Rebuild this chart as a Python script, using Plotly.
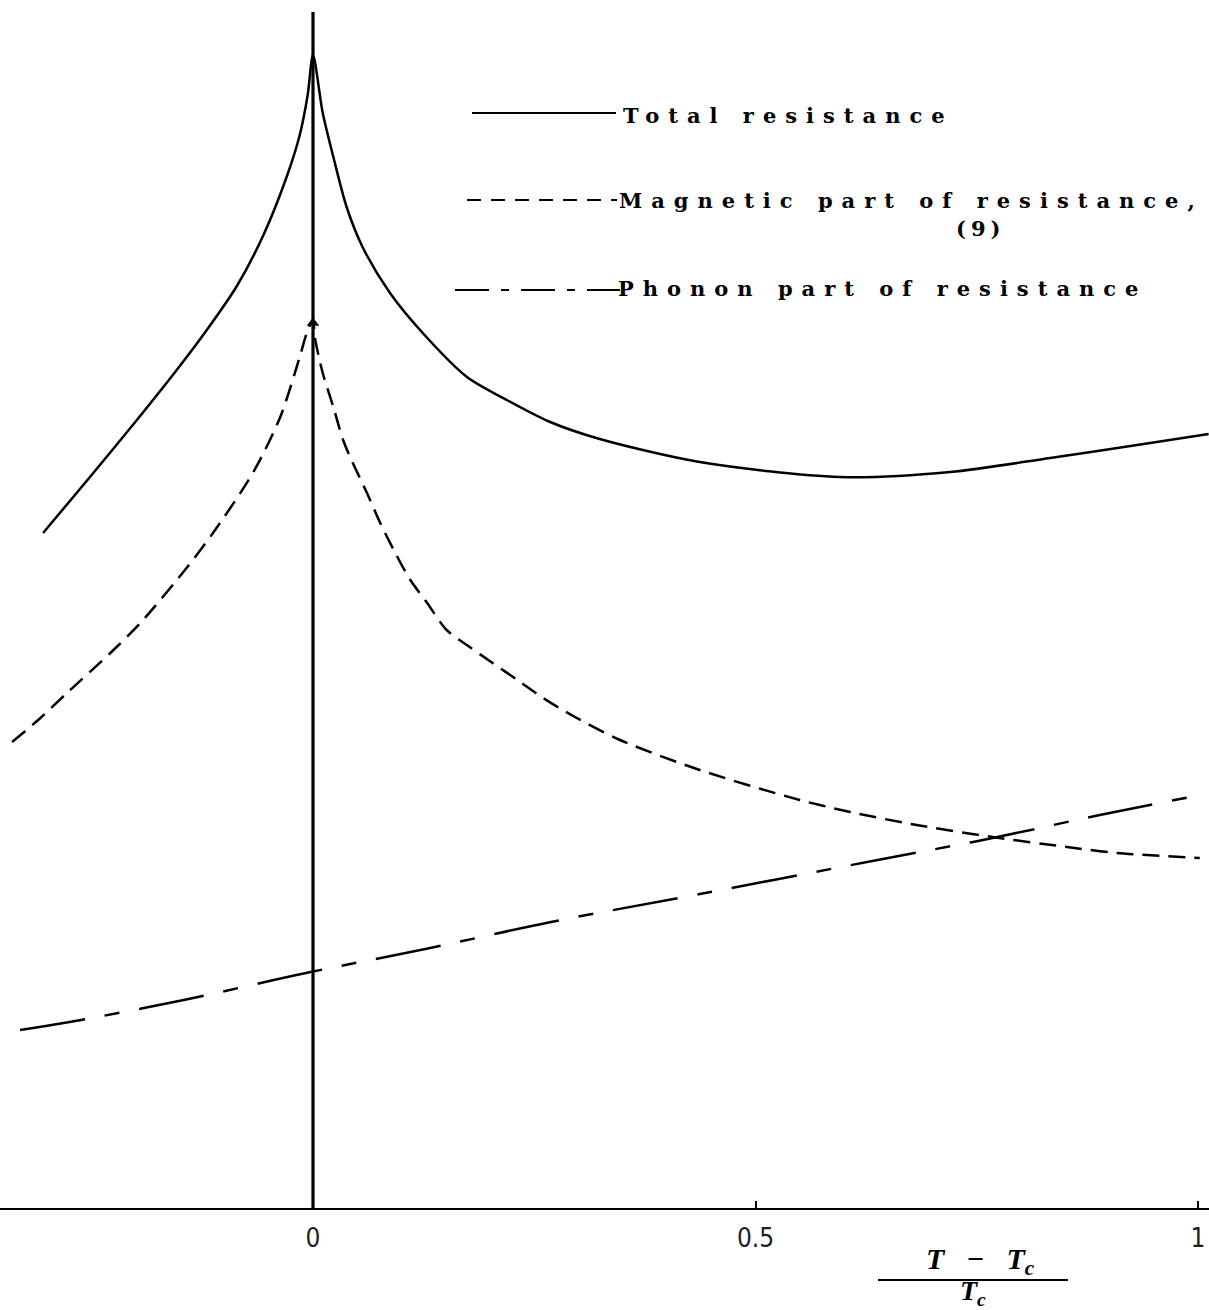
import plotly.graph_objects as go

# ---- data (reduced temperature (T-Tc)/Tc vs resistance, arbitrary units) ----
total_x = [-0.305, -0.252, -0.199, -0.154, -0.120, -0.086, -0.056, -0.029, -0.015, -0.006, 0.0,
           0.011, 0.023, 0.038, 0.056, 0.087, 0.124, 0.174, 0.219, 0.268, 0.324, 0.437, 0.595,
           0.720, 0.833, 0.946, 1.012]
total_y = [6.75, 7.31, 7.88, 8.38, 8.78, 9.22, 9.73, 10.33, 10.73, 11.13, 11.53,
           10.95, 10.51, 10.01, 9.61, 9.15, 8.75, 8.31, 8.08, 7.86, 7.69, 7.46, 7.31,
           7.36, 7.50, 7.65, 7.74]

mag_x = [-0.340, -0.308, -0.278, -0.229, -0.195, -0.142, -0.113, -0.068, -0.037, -0.015, -0.007, 0.0,
         0.002, 0.011, 0.023, 0.034, 0.045, 0.061, 0.076, 0.093, 0.110, 0.129, 0.151, 0.177, 0.203,
         0.231, 0.260, 0.294, 0.347, 0.437, 0.550, 0.607, 0.682, 0.768, 0.852, 0.908, 1.002]
mag_y = [4.66, 4.90, 5.15, 5.55, 5.85, 6.41, 6.75, 7.35, 7.91, 8.51, 8.75, 8.88,
         8.71, 8.35, 8.01, 7.68, 7.45, 7.15, 6.85, 6.55, 6.28, 6.05, 5.78, 5.61, 5.45,
         5.28, 5.10, 4.92, 4.68, 4.38, 4.08, 3.96, 3.83, 3.71, 3.61, 3.55, 3.50]

phon_x = [-0.331, -0.275, -0.146, -0.008, 0.127, 0.269, 0.437, 0.632, 0.768, 0.889, 0.997]
phon_y = [1.78, 1.86, 2.08, 2.35, 2.59, 2.86, 3.14, 3.47, 3.70, 3.93, 4.12]

axis_top = 11.96
arrow_y = 8.85

tick_vals = [0, 0.5, 1]
tick_text = ["0", "0.5", "1"]

legend_labels = ["Total resistance", "Magnetic part of resistance,", "Phonon part of resistance"]
eq_label = "(9)"

# ---- pixel helpers for layout placement ----
def X(px):
    return (px - 313) / 885.0

def Y(py):
    return (1208 - py) / 100.0

def P(py):
    return (1208 - py) / 1208.0

MAG_DASH = "17px,9px"
PHON_DASH = "66px,20px,15px,20px"

fig = go.Figure()
fig.add_trace(go.Scatter(x=[0, 0], y=[0, axis_top], mode="lines",
                         line=dict(color="black", width=3.2), showlegend=False))
fig.add_trace(go.Scatter(x=total_x, y=total_y, mode="lines",
                         line=dict(color="black", width=2.5, shape="spline", smoothing=0.8),
                         showlegend=False))
fig.add_trace(go.Scatter(x=mag_x, y=mag_y, mode="lines",
                         line=dict(color="black", width=2.5, dash=MAG_DASH, shape="spline", smoothing=0.8),
                         showlegend=False))
fig.add_trace(go.Scatter(x=phon_x, y=phon_y, mode="lines",
                         line=dict(color="black", width=2.5, dash=PHON_DASH, shape="spline", smoothing=1.0),
                         showlegend=False))
fig.add_trace(go.Scatter(x=[0], y=[arrow_y], mode="markers",
                         marker=dict(symbol="triangle-up", size=11, color="black"),
                         showlegend=False))

# legend sample lines
shapes = [
    dict(type="line", xref="x", yref="y", x0=X(472), x1=X(616), y0=Y(113), y1=Y(113),
         line=dict(color="black", width=2)),
    dict(type="line", xref="x", yref="y", x0=X(467), x1=X(617), y0=Y(200), y1=Y(200),
         line=dict(color="black", width=2, dash="14px,10px")),
    dict(type="line", xref="x", yref="y", x0=X(455), x1=X(620), y0=Y(290), y1=Y(290),
         line=dict(color="black", width=2, dash="34px,12px,8px,12px")),
    # fraction bar of the axis title
    dict(type="line", xref="x", yref="paper", x0=X(878), x1=X(1068), y0=P(1280), y1=P(1280),
         line=dict(color="black", width=2)),
]

leg_font = dict(family="DejaVu Serif, serif", size=21, color="black", weight="bold")
LS = "letter-spacing:9px"
annotations = [
    dict(x=X(621), y=Y(115), xref="x", yref="y", xanchor="left", yanchor="middle", showarrow=False,
         text=f'<span style="{LS}">{legend_labels[0]}</span>', font=leg_font),
    dict(x=X(617), y=Y(200), xref="x", yref="y", xanchor="left", yanchor="middle", showarrow=False,
         text=f'<span style="{LS}">{legend_labels[1]}</span>', font=leg_font),
    dict(x=X(980), y=Y(228), xref="x", yref="y", xanchor="center", yanchor="middle", showarrow=False,
         text=f'<span style="letter-spacing:5px">{eq_label}</span>', font=leg_font),
    dict(x=X(616), y=Y(288), xref="x", yref="y", xanchor="left", yanchor="middle", showarrow=False,
         text=f'<span style="{LS}">{legend_labels[2]}</span>', font=leg_font),
    dict(x=X(980), y=P(1261), xref="x", yref="paper", xanchor="center", yanchor="middle", showarrow=False,
         text="<b><i>T</i></b>   <b>−</b>   <b><i>T</i></b><b><i><sub>c</sub></i></b>",
         font=dict(family="Liberation Serif, serif", size=30, color="black")),
    dict(x=X(973), y=P(1292), xref="x", yref="paper", xanchor="center", yanchor="middle", showarrow=False,
         text="<b><i>T</i></b><b><i><sub>c</sub></i></b>",
         font=dict(family="Liberation Serif, serif", size=28, color="black")),
]

fig.update_layout(
    width=1209, height=1310,
    margin=dict(l=0, r=0, t=0, b=102),
    paper_bgcolor="white", plot_bgcolor="white",
    shapes=shapes, annotations=annotations,
    xaxis=dict(range=[X(0), X(1209)], showgrid=False, zeroline=False,
               showline=True, linecolor="black", linewidth=2,
               tickmode="array", tickvals=tick_vals, ticktext=tick_text,
               ticks="inside", ticklen=7, tickwidth=1.5, tickcolor="black",
               ticklabelstandoff=6,
               tickfont=dict(family="Liberation Sans Narrow, DejaVu Sans Condensed, sans-serif",
                             size=26, color="#222")),
    yaxis=dict(range=[0, Y(0)], visible=False, showgrid=False, zeroline=False),
)

fig.write_html("out.html")
